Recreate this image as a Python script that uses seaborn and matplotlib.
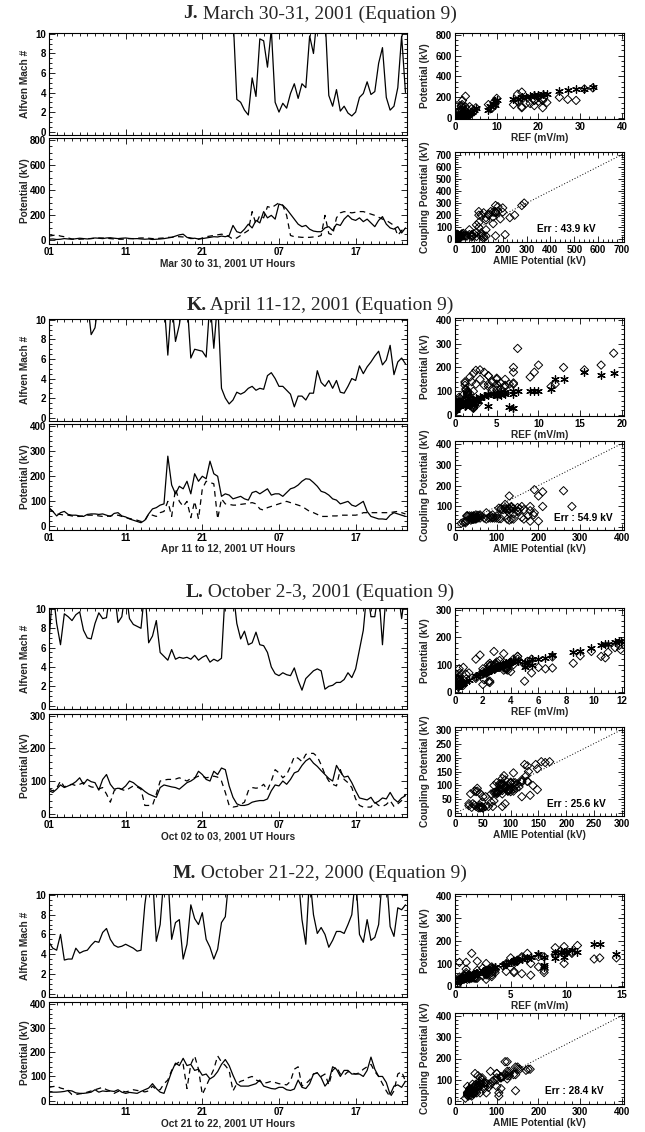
import numpy as np
import pandas as pd
import matplotlib
matplotlib.use("Agg")
import matplotlib.pyplot as plt
import seaborn as sns
from matplotlib.ticker import MultipleLocator

sns.set_style("white")
plt.rcParams["font.family"] = ["Liberation Sans", "DejaVu Sans"]
plt.rcParams["font.weight"] = "bold"
plt.rcParams["axes.labelweight"] = "bold"
plt.rcParams["axes.edgecolor"] = "black"
plt.rcParams["axes.linewidth"] = 0.8

W, H = 645, 1132

# sample times (hours since 00 UT of first day), half-hour steps
hours = np.arange(1.0, 48.0, 0.5)
hour_ticks = [1, 11, 21, 31, 41]
hour_labels = ["01", "11", "21", "07", "17"]

# ---------------- Panel J : March 30-31, 2001 ----------------
j_mach = [12, 12, 12, 12, 12, 12, 12, 12, 12, 12,
          12, 12, 12, 12, 12, 12, 12, 12, 12, 12,
          12, 12, 12, 12, 12, 12, 12, 12, 12, 12,
          12, 12, 12, 12, 12, 12, 12, 12, 12, 12,
          12, 12, 12, 12, 12, 12, 12, 12, 12, 3.3,
          3.0, 2.2, 1.7, 5.5, 3.6, 9.5, 9.3, 6.6, 10.5, 3.0,
          2.0, 2.9, 2.4, 3.9, 4.9, 3.4, 4.9, 4.5, 9.8, 8.0,
          12, 12, 12, 3.7, 2.6, 4.3, 2.1, 2.6, 1.9, 1.6,
          2.0, 3.5, 3.9, 5.1, 3.8, 4.1, 7.0, 8.6, 3.5, 2.2,
          2.6, 4.5, 9.8, 4.0]
j_amie = [10, 12, 8, 10, 15, 12, 10, 14, 18, 15,
          12, 16, 20, 18, 15, 20, 22, 18, 15, 18,
          20, 16, 14, 15, 12, 10, 12, 8, 10, 12,
          15, 20, 25, 35, 45, 50, 25, 15, 18, 12,
          15, 20, 25, 30, 28, 35, 30, 40, 120, 70,
          60, 90, 130, 100, 160, 140, 230, 180, 200, 170,
          290, 280, 250, 210, 170, 130, 110, 120, 90, 75,
          70, 70, 100, 110, 80, 130, 120, 170, 200, 170,
          160, 180, 150, 170, 140, 110, 160, 190, 130, 100,
          90, 110, 60, 100]
j_coup = [35, 40, 45, 35, 30, 20, 12, 10, 10, 12,
          15, 15, 18, 20, 20, 18, 15, 12, 10, 10,
          12, 15, 15, 18, 20, 20, 18, 15, 15, 18,
          20, 25, 25, 30, 30, 28, 25, 20, 12, 10,
          20, 30, 35, 40, 45, 50, 45, 30, 10, 20,
          40, 60, 80, 230, 130, 200, 180, 270, 260, 280,
          300, 280, 200, 40, 30, 28, 25, 25, 25, 28,
          30, 40, 200, 55, 45, 180, 220, 230, 225, 220,
          225, 230, 230, 220, 210, 200, 185, 170, 160, 140,
          120, 40, 80, 100]
j_ref = [2.0, 2.5, 3.0, 2.2, 1.8, 1.2, 0.6, 0.5, 0.4, 0.6,
         0.8, 0.8, 1.0, 1.2, 1.2, 1.0, 0.8, 0.6, 0.5, 0.5,
         0.6, 0.8, 0.8, 1.0, 1.2, 1.2, 1.0, 0.8, 0.8, 1.0,
         1.2, 1.5, 1.5, 1.8, 1.8, 1.7, 1.5, 1.2, 0.6, 0.5,
         1.2, 1.8, 2.0, 2.5, 3.0, 3.5, 3.0, 1.8, 0.5, 1.2,
         2.5, 4.0, 8.0, 21, 9.5, 17, 15, 27, 25, 29,
         33, 31, 16, 2.5, 1.8, 1.7, 1.5, 1.5, 1.5, 1.7,
         1.8, 2.5, 16, 3.5, 3.0, 14, 19, 21, 20, 19,
         20, 21, 22, 19, 18, 16, 15, 10, 9.5, 9.0,
         8.5, 2.5, 4.5, 5.0]

# ---------------- Panel K : April 11-12, 2001 ----------------
k_mach = [12, 12, 12, 12, 12, 12, 12, 12, 12, 12,
          12, 8.5, 9.2, 12, 12, 12, 12, 12, 12, 12,
          12, 12, 12, 12, 12, 12, 12, 12, 12, 12,
          12, 6.4, 12, 7.8, 9.5, 12, 12, 6.1, 7.0, 6.9,
          6.8, 6.2, 12, 7.1, 12, 3.0, 2.0, 1.4, 1.8, 2.6,
          2.4, 2.6, 3.0, 3.2, 2.8, 3.0, 2.9, 4.3, 4.6, 4.0,
          3.2, 3.2, 2.8, 2.4, 1.1, 2.2, 2.2, 1.8, 2.5, 2.5,
          4.8, 3.6, 3.2, 3.8, 3.0, 3.8, 2.6, 2.5, 3.2, 4.0,
          3.8, 5.3, 4.5, 5.2, 5.7, 6.3, 6.8, 5.4, 5.9, 7.4,
          4.4, 5.7, 6.1, 5.5]
k_amie = [75, 60, 42, 55, 60, 48, 45, 45, 42, 40,
          48, 50, 50, 48, 50, 45, 40, 52, 55, 42,
          38, 30, 25, 20, 15, 25, 50, 70, 75, 85,
          90, 280, 165, 130, 160, 150, 180, 130, 210, 180,
          200, 190, 260, 210, 200, 120, 130, 125, 110, 115,
          120, 110, 105, 135, 140, 130, 140, 150, 125, 130,
          130, 120, 135, 150, 155, 165, 180, 190, 188, 175,
          160, 140, 135, 125, 110, 105, 90, 95, 100, 85,
          80, 90, 100, 60, 40, 35, 30, 30, 28, 45,
          55, 50, 45, 40]
k_coup = [70, 60, 50, 48, 45, 45, 42, 40, 40, 42,
          45, 45, 45, 42, 40, 40, 42, 45, 45, 40,
          35, 32, 28, 25, 20, 22, 50, 45, 40, 55,
          60, 100, 40, 150, 100, 80, 100, 35, 100, 30,
          150, 180, 175, 170, 30, 110, 90, 88, 85, 85,
          88, 90, 92, 95, 90, 70, 65, 75, 80, 85,
          90, 95, 100, 95, 90, 85, 80, 70, 60, 55,
          48, 40, 40, 40, 42, 42, 45, 45, 45, 45,
          45, 48, 55, 55, 55, 55, 55, 55, 55, 55,
          58, 60, 55, 50]
k_ref = [1.5, 1.0, 0.7, 0.6, 0.5, 0.5, 0.4, 0.3, 0.3, 0.4,
         0.5, 0.5, 0.5, 0.4, 0.3, 0.3, 0.4, 0.5, 0.5, 0.3,
         0.2, 0.15, 0.1, 0.1, 0.05, 0.1, 0.8, 0.6, 0.5, 1.0,
         1.5, 7.5, 4.0, 12, 9.0, 5.0, 9.5, 6.5, 10, 7.0,
         13, 15.5, 19, 17.5, 7.0, 11.5, 7.0, 6.0, 5.5, 5.0,
         4.0, 4.5, 5.0, 5.5, 4.5, 2.5, 2.0, 3.0, 3.5, 4.0,
         5.0, 6.0, 7.0, 6.0, 5.0, 4.0, 3.5, 3.0, 2.5, 2.2,
         1.8, 1.2, 1.2, 1.2, 1.3, 1.3, 1.5, 1.5, 1.5, 1.5,
         1.5, 1.8, 2.2, 2.2, 2.2, 2.2, 2.2, 2.2, 2.2, 2.2,
         2.5, 2.8, 2.2, 1.8]

# ---------------- Panel L : October 2-3, 2001 ----------------
l_mach = [6.7, 12, 8.5, 6.3, 9.5, 9.2, 8.8, 9.4, 9.7, 7.8,
          7.0, 6.9, 8.5, 9.6, 9.0, 9.1, 12, 12, 8.6, 9.2,
          12, 9.0, 8.4, 8.2, 8.0, 12, 6.5, 7.2, 8.8, 5.5,
          5.1, 4.7, 5.8, 4.8, 5.0, 4.9, 5.0, 4.8, 5.2, 4.7,
          5.0, 5.2, 4.5, 4.8, 4.6, 4.9, 12, 12, 12, 8.5,
          6.9, 7.7, 6.3, 6.5, 7.6, 6.3, 6.2, 5.5, 4.0, 3.3,
          3.1, 3.4, 3.2, 3.1, 3.9, 2.6, 1.6, 2.8, 3.2, 3.6,
          3.8, 3.6, 1.7, 2.0, 2.1, 2.4, 2.4, 2.7, 3.4, 2.9,
          3.8, 5.8, 7.8, 12, 9.2, 9.2, 12, 6.3, 12, 12,
          12, 12, 9.0, 12]
l_amie = [70, 65, 75, 88, 80, 85, 90, 98, 110, 90,
          105, 98, 95, 72, 105, 120, 90, 75, 78, 75,
          85, 100, 95, 85, 78, 68, 60, 55, 50, 80,
          88, 85, 82, 80, 75, 85, 95, 100, 108, 130,
          120, 105, 100, 130, 120, 140, 135, 85, 50, 30,
          25, 25, 28, 35, 38, 40, 40, 45, 70, 88,
          85, 100, 90, 105, 125, 130, 148, 162, 170, 155,
          145, 132, 120, 108, 100, 148, 128, 112, 115, 95,
          70, 48, 45, 42, 50, 32, 38, 48, 45, 65,
          45, 35, 48, 55]
l_coup = [75, 70, 78, 100, 82, 88, 90, 86, 90, 95,
          88, 82, 80, 76, 80, 60, 35, 70, 80, 74,
          70, 78, 85, 82, 75, 25, 25, 25, 60, 100,
          103, 105, 105, 106, 110, 105, 100, 108, 110, 115,
          115, 110, 112, 115, 112, 100, 65, 25, 20, 22,
          28, 35, 70, 80, 78, 80, 90, 72, 100, 135,
          125, 110, 120, 145, 175, 170, 160, 182, 185, 185,
          175, 150, 120, 100, 90, 85, 135, 105, 95, 80,
          45, 25, 20, 20, 20, 35, 25, 22, 28, 40,
          22, 30, 40, 60]
l_ref = [2.3, 2.0, 2.4, 3.5, 2.6, 2.9, 3.0, 2.8, 3.0, 3.2,
         2.9, 2.6, 2.5, 2.3, 2.5, 1.5, 0.6, 2.0, 2.5, 2.2,
         2.0, 2.4, 2.8, 2.6, 2.3, 0.3, 0.3, 0.3, 1.5, 3.5,
         3.6, 3.7, 3.7, 3.8, 4.0, 3.7, 3.5, 3.9, 4.0, 4.5,
         4.5, 4.0, 4.2, 4.5, 4.2, 3.5, 1.8, 0.3, 0.2, 0.2,
         0.4, 0.6, 2.0, 2.5, 2.4, 2.5, 5.0, 2.1, 5.5, 7.0,
         6.5, 5.0, 6.0, 8.5, 10.8, 10.5, 9.8, 11.5, 11.8, 11.9,
         11.0, 9.0, 5.5, 3.5, 3.0, 2.8, 7.0, 5.2, 3.2, 2.5,
         1.0, 0.3, 0.2, 0.2, 0.2, 0.6, 0.3, 0.2, 0.4, 0.8,
         0.2, 0.5, 0.8, 1.5]

# ---------------- Panel M : October 21-22, 2000 ----------------
m_mach = [5.2, 4.6, 4.4, 6.0, 3.4, 3.5, 3.5, 4.6, 4.1, 4.3,
          4.4, 4.9, 5.3, 5.2, 6.2, 6.6, 5.5, 4.9, 4.7, 4.8,
          5.0, 4.8, 4.6, 4.3, 4.4, 9.0, 12, 12, 5.3, 7.0,
          12, 12, 5.5, 7.2, 7.5, 3.5, 5.0, 9.0, 7.6, 7.0,
          8.2, 5.5, 4.7, 3.5, 4.5, 7.2, 7.8, 12, 12, 12,
          12, 12, 12, 12, 12, 12, 12, 12, 12, 12,
          12, 12, 12, 12, 12, 12, 7.5, 5.0, 12, 8.0,
          6.1, 6.7, 6.0, 4.7, 5.4, 6.3, 6.3, 6.1, 7.0, 8.0,
          12, 6.0, 5.2, 7.5, 5.4, 5.7, 7.0, 12, 12, 6.8,
          5.8, 8.7, 8.5, 9.0]
m_amie = [35, 35, 35, 36, 38, 42, 40, 32, 30, 30,
          32, 35, 45, 35, 40, 38, 40, 38, 45, 35,
          30, 34, 32, 30, 38, 45, 52, 70, 50, 35,
          30, 75, 120, 155, 145, 175, 145, 150, 125, 130,
          105, 110, 90, 100, 120, 150, 170, 145, 105, 70,
          60, 60, 60, 65, 70, 85, 60, 55, 50, 48,
          55, 55, 45, 42, 48, 85, 55, 50, 70, 110,
          115, 95, 60, 80, 140, 130, 100, 125, 125, 110,
          110, 110, 100, 125, 180, 130, 100, 100, 75, 25,
          60, 65, 55, 80]
m_coup = [55, 58, 60, 52, 48, 40, 25, 25, 28, 30,
          35, 40, 45, 50, 55, 45, 40, 30, 38, 40,
          36, 40, 45, 42, 40, 36, 40, 60, 45, 45,
          70, 85, 125, 150, 160, 150, 50, 150, 185, 130,
          25, 60, 95, 130, 185, 160, 145, 125, 40, 70,
          80, 85, 95, 100, 85, 80, 72, 75, 80, 75,
          70, 68, 65, 80, 130, 140, 60, 70, 85, 110,
          115, 100, 110, 65, 125, 140, 110, 105, 120, 115,
          110, 115, 130, 140, 150, 120, 100, 70, 40, 15,
          40, 110, 120, 80]
m_ref = [1.8, 1.9, 2.0, 1.7, 1.5, 1.0, 0.4, 0.4, 0.5, 0.6,
         0.8, 1.0, 1.3, 1.5, 1.8, 1.3, 1.0, 0.6, 0.9, 1.0,
         0.8, 1.0, 1.3, 1.1, 1.0, 0.8, 1.0, 2.0, 1.3, 1.3,
         2.8, 3.6, 6.5, 9.5, 10.5, 9.8, 1.5, 10, 13, 8.0,
         0.4, 2.0, 4.3, 6.8, 12.5, 10.5, 9.0, 6.5, 1.0, 2.8,
         3.3, 3.6, 8.0, 4.6, 8.0, 3.3, 2.9, 3.0, 3.3, 3.0,
         2.8, 2.7, 2.5, 3.3, 6.8, 7.5, 2.0, 2.8, 3.6, 5.3,
         5.6, 4.6, 5.3, 2.5, 9.0, 7.5, 5.3, 5.0, 6.0, 5.6,
         5.3, 5.6, 9.8, 14.5, 11.0, 6.0, 4.6, 2.8, 1.0, 0.2,
         1.0, 5.3, 6.0, 3.3]

panels = [
    dict(letter="J.", title=" March 30-31, 2001 (Equation 9)",
         xlabel="Mar 30 to 31, 2001 UT Hours", hlabels=hour_labels,
         mach=j_mach, amie=j_amie, coup=j_coup, ref=j_ref, err="Err : 43.9 kV",
         pot=(800, 200, 50), rtx=(40, 10, 2), rty=(800, 200, 50), rb=(700, 100, 20),
         ttl=14, mach_px=(33, 135), pot_px=(138, 244), rt_px=(33, 119), rb_px=(152, 242),
         errx=0.83),
    dict(letter="K.", title=" April 11-12, 2001 (Equation 9)",
         xlabel="Apr 11 to 12, 2001 UT Hours", hlabels=hour_labels,
         mach=k_mach, amie=k_amie, coup=k_coup, ref=k_ref, err="Err : 54.9 kV",
         pot=(400, 100, 20), rtx=(20, 5, 1), rty=(400, 100, 20), rb=(400, 100, 20),
         ttl=305, mach_px=(319, 421), pot_px=(424, 530), rt_px=(318, 416), rb_px=(441, 530),
         errx=0.935),
    dict(letter="L.", title=" October 2-3, 2001 (Equation 9)",
         xlabel="Oct 02 to 03, 2001 UT Hours", hlabels=hour_labels,
         mach=l_mach, amie=l_amie, coup=l_coup, ref=l_ref, err="Err : 25.6 kV",
         pot=(300, 100, 20), rtx=(12, 2, 0.5), rty=(300, 100, 20), rb=(300, 50, 10),
         ttl=592, mach_px=(608, 709), pot_px=(714, 817), rt_px=(608, 693), rb_px=(727, 816),
         errx=0.89),
    dict(letter="M.", title=" October 21-22, 2000 (Equation 9)",
         xlabel="Oct 21 to 22, 2001 UT Hours", hlabels=["", "11", "21", "07", "17"],
         mach=m_mach, amie=m_amie, coup=m_coup, ref=m_ref, err="Err : 28.4 kV",
         pot=(400, 100, 20), rtx=(15, 5, 1), rty=(400, 100, 20), rb=(400, 100, 20),
         ttl=873, mach_px=(894, 997), pot_px=(1002, 1104), rt_px=(894, 987), rb_px=(1013, 1104),
         errx=0.88),
]

LX0, LX1 = 49, 407
RX0, RX1 = 455, 624
TICK = 7.0
LAB = 7.3

fig = plt.figure(figsize=(W / 100, H / 100), dpi=100)


def add_ax(x0, x1, top, bottom):
    return fig.add_axes([x0 / W, 1 - bottom / H, (x1 - x0) / W, (bottom - top) / H])


def style(ax):
    ax.set_facecolor("white")
    for s in ax.spines.values():
        s.set_visible(True)
        s.set_color("black")
        s.set_linewidth(0.8)
    ax.tick_params(which="both", direction="in", top=True, right=True,
                   bottom=True, left=True, width=0.6, labelsize=TICK, pad=2,
                   colors="black")
    ax.tick_params(which="major", length=4.5)
    ax.tick_params(which="minor", length=2.2)
    for lab in ax.get_xticklabels() + ax.get_yticklabels():
        lab.set_fontweight("bold")


def ylab(ax, text, off_px, width_px):
    ax.set_ylabel(text, fontsize=LAB, fontweight="bold")
    ax.yaxis.set_label_coords(-off_px / width_px, 0.5)


def xlab(ax, text):
    ax.set_xlabel(text, fontsize=LAB, fontweight="bold", labelpad=1.2)


lw = 0.9
for p in panels:
    ts = pd.DataFrame({"hour": hours, "mach": p["mach"], "amie": p["amie"],
                       "coup": p["coup"], "ref": p["ref"]})

    # ---- Alfven Mach number ----
    ax1 = add_ax(LX0, LX1, *p["mach_px"])
    sns.lineplot(data=ts, x="hour", y="mach", ax=ax1, color="black", lw=lw,
                 estimator=None, errorbar=None, sort=False)
    ax1.set_xlim(1, 47.7)
    ax1.set_ylim(-0.35, 10.1)
    ax1.set_xticks(hour_ticks)
    ax1.set_xticklabels([])
    ax1.xaxis.set_minor_locator(MultipleLocator(1))
    ax1.yaxis.set_major_locator(MultipleLocator(2))
    ax1.yaxis.set_minor_locator(MultipleLocator(0.5))
    ax1.set_xlabel("")
    style(ax1)
    ylab(ax1, "Alfven Mach #", 19, LX1 - LX0)

    # ---- Potentials ----
    pmax, pmaj, pmin = p["pot"]
    ax2 = add_ax(LX0, LX1, *p["pot_px"])
    sns.lineplot(data=ts, x="hour", y="amie", ax=ax2, color="black", lw=lw,
                 estimator=None, errorbar=None, sort=False)
    sns.lineplot(data=ts, x="hour", y="coup", ax=ax2, color="black", lw=lw,
                 estimator=None, errorbar=None, sort=False,
                 linestyle=(0, (4.5, 3.5)))
    ax2.set_xlim(1, 47.7)
    ax2.set_ylim(-0.035 * pmax, 1.02 * pmax)
    ax2.set_xticks(hour_ticks)
    ax2.set_xticklabels(p["hlabels"])
    ax2.xaxis.set_minor_locator(MultipleLocator(1))
    ax2.yaxis.set_major_locator(MultipleLocator(pmaj))
    ax2.yaxis.set_minor_locator(MultipleLocator(pmin))
    style(ax2)
    ylab(ax2, "Potential (kV)", 19, LX1 - LX0)
    xlab(ax2, p["xlabel"])

    # ---- Potential vs REF ----
    xm, xmaj, xmin = p["rtx"]
    ym, ymaj, ymin = p["rty"]
    ax3 = add_ax(RX0, RX1, *p["rt_px"])
    sns.scatterplot(data=ts, x="ref", y="amie", ax=ax3, marker="D", s=18,
                    facecolor="none", edgecolor="black", linewidth=0.7)
    sns.scatterplot(data=ts, x="ref", y="coup", ax=ax3, marker=(6, 2, 0), s=30,
                    color="black", linewidth=0.9)
    ax3.set_xlim(0, 1.012 * xm)
    ax3.set_ylim(-0.01 * ym, 1.02 * ym)
    ax3.xaxis.set_major_locator(MultipleLocator(xmaj))
    ax3.xaxis.set_minor_locator(MultipleLocator(xmin))
    ax3.yaxis.set_major_locator(MultipleLocator(ymaj))
    ax3.yaxis.set_minor_locator(MultipleLocator(ymin))
    style(ax3)
    ylab(ax3, "Potential (kV)", 25, RX1 - RX0)
    xlab(ax3, "REF (mV/m)")

    # ---- Coupling vs AMIE potential ----
    bm, bmaj, bmin = p["rb"]
    ax4 = add_ax(RX0, RX1, *p["rb_px"])
    sns.scatterplot(data=ts, x="amie", y="coup", ax=ax4, marker="D", s=18,
                    facecolor="none", edgecolor="black", linewidth=0.7)
    ax4.axline((0, 0), slope=1, color="black", linestyle=(0, (1, 2)), lw=0.7)
    ax4.set_xlim(0, 1.012 * bm)
    ax4.set_ylim(-0.03 * bm, 1.03 * bm)
    for axis in (ax4.xaxis, ax4.yaxis):
        axis.set_major_locator(MultipleLocator(bmaj))
        axis.set_minor_locator(MultipleLocator(bmin))
    style(ax4)
    ylab(ax4, "Coupling Potential (kV)", 25, RX1 - RX0)
    xlab(ax4, "AMIE Potential (kV)")
    ax4.text(p["errx"], 0.14, p["err"], transform=ax4.transAxes, ha="right",
             va="center", fontsize=LAB, fontweight="bold", color="black")

# ---- panel titles (bold letter + roman text, centred) ----
renderer = fig.canvas.get_renderer()
for p in panels:
    yy = 1 - p["ttl"] / H
    tb = fig.text(0, yy, p["letter"], fontfamily=["Liberation Serif", "DejaVu Serif"],
                  fontweight="bold", fontsize=14, va="center", ha="left")
    tr = fig.text(0, yy, p["title"], fontfamily=["Liberation Serif", "DejaVu Serif"],
                  fontweight="normal", fontsize=14, va="center", ha="left")
    wb = tb.get_window_extent(renderer).width
    wr = tr.get_window_extent(renderer).width
    x0 = 320 - (wb + wr) / 2
    tb.set_x(x0 / W)
    tr.set_x((x0 + wb) / W)

fig.savefig("out.png", dpi=100, facecolor="white")
